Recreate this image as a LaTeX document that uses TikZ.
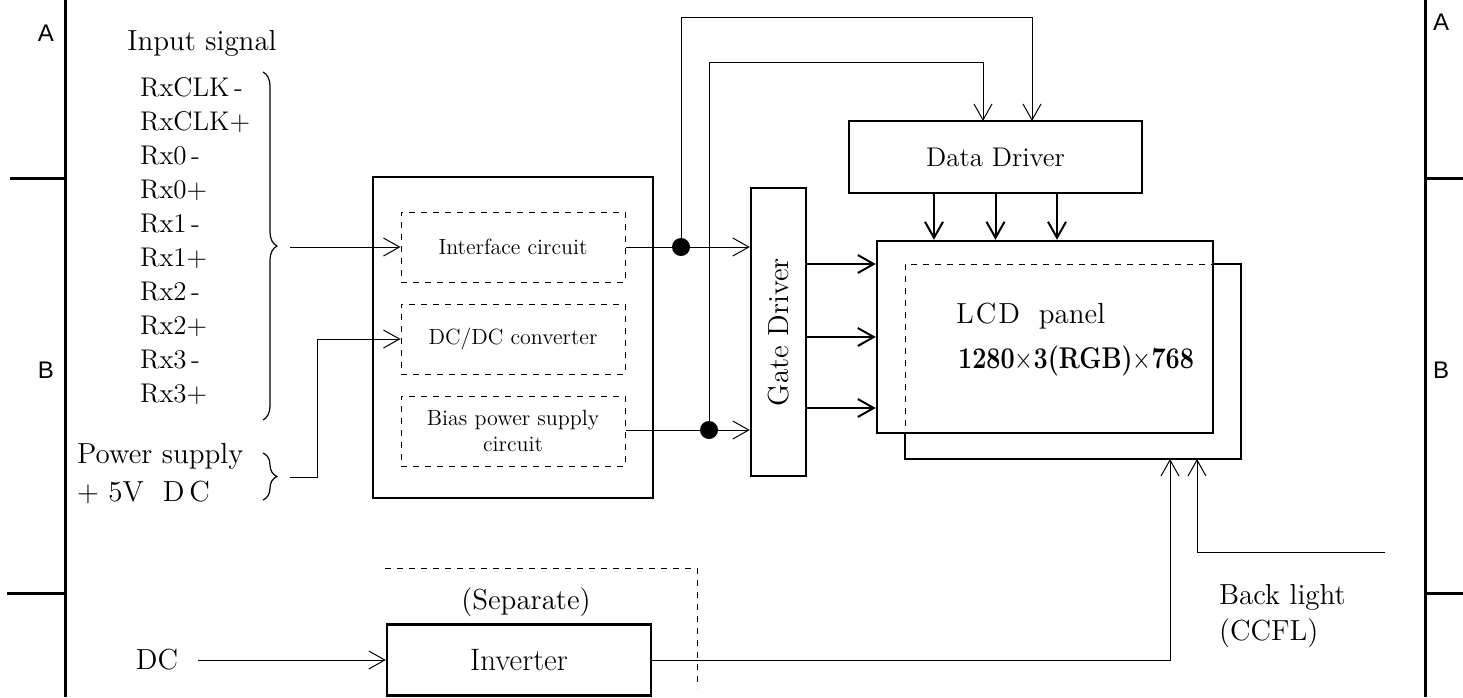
\documentclass[tikz,border=0pt]{standalone}
\usepackage{fontspec}
\newfontfamily\marcofont{Liberation Sans}
\usetikzlibrary{positioning, arrows.meta, decorations.pathreplacing}

\begin{document}
\begin{tikzpicture}[x=0.5pt, y=-0.5pt, >={Straight Barb[length=8pt,width=9pt]},
  bloque/.style={draw, line width=1.2pt, inner sep=0pt},
  sub/.style={draw, dashed, line width=0.5pt, inner sep=0pt, minimum width=112pt,
    minimum height=35pt, align=center, font=\fontsize{11}{13}\selectfont},
  fino/.style={line width=0.5pt},
  grueso/.style={line width=1pt},
  marco/.style={line width=1.5pt},
  llave/.style={decorate, decoration={brace, amplitude=7pt}, line width=0.6pt},
  txt/.style={font=\fontsize{14.5}{18}\selectfont},
  letra/.style={font=\marcofont\fontsize{12}{14}\selectfont}]
\useasboundingbox (0,0) rectangle (1463,697);

% Marco
\draw[marco] (65,0) -- (65,697);
\draw[marco] (1425,0) -- (1425,697);
\draw[marco] (10,178) -- (65,178);
\draw[marco] (7,593) -- (65,593);
\draw[marco] (1425,178) -- (1463,178);
\draw[marco] (1425,593) -- (1463,593);
\node[letra] (al) at (46,33) {A};
\node[letra] (ar) at (1441,22) {A};
\node[letra] (bl) at (46,370) {B};
\node[letra] (br) at (1441,370) {B};

% Entradas
\node[txt] (insig) at (202,43) {Input signal};
\node[anchor=west, align=left, font=\fontsize{13.5}{17}\selectfont] (rx) at (133,241)
  {RxCLK\,-\\RxCLK+\\Rx0\,-\\Rx0+\\Rx1\,-\\Rx1+\\Rx2\,-\\Rx2+\\Rx3\,-\\Rx3+};
\draw[llave] (263,72) -- (263,420);
\coordinate (rxtip) at (290,247);
\node[txt, anchor=west] (pwr) at (70,456) {Power supply};
\node[txt, anchor=west] (pwrv) at (70,492) {$+$\ 5V\ \ D\,C};
\draw[llave] (263,453) -- (263,500);
\coordinate (pwtip) at (290,477);
\coordinate (pwcodo) at (317,477);

% Bloques
\node[bloque, minimum width=140pt, minimum height=160.5pt] (ctrl) at (513,337.5) {};
\node[sub] (intf) at (513,247) {Interface circuit};
\node[sub, below=10.5pt of intf] (dcdc) {DC/DC converter};
\node[sub, below=10.5pt of dcdc] (bias) {Bias power supply\\circuit};
\node[bloque, minimum width=27.5pt, minimum height=144pt, font=\fontsize{14.5}{16}\selectfont]
  (gate) at (778.5,332) {\rotatebox{90}{Gate Driver}};
\node[bloque, minimum width=146.5pt, minimum height=36pt, font=\fontsize{13.5}{16}\selectfont]
  (data) at (995.5,157) {Data Driver};
\node[draw, dashed, fino, minimum width=167.5pt, minimum height=97pt] (back) at (1072.5,361) {};
\node[bloque, minimum width=168pt, minimum height=96pt] (lcd) at (1045,337) {};
\draw[grueso] (lcd.east |- back.north) -- (back.north east) -- (back.south east)
  -- (back.south west) -- (back.west |- lcd.south);
\node[txt, anchor=west] (lcdt) at (949,316) {L\kern1ptC\kern1ptD\ \ panel};
\node[anchor=west, font=\bfseries\fontsize{15}{16}\selectfont] (res) at (951,361)
  {\scalebox{0.84}[1]{1280$\times$3(RGB)$\times$768}};
\node[bloque, minimum width=132pt, minimum height=35.5pt, font=\fontsize{15.5}{18}\selectfont]
  (inv) at (519,660) {Inverter};
\node[txt] (sep) at (526,602) {(Separate)};
\node[txt] (dc) at (157,660) {DC};
\node[txt, anchor=west, align=left] (bltxt) at (1212,616) {Back light\\(CCFL)};
\draw[fino, dashed] (385,568) -- (697,568) -- (697,688);

% Conexiones
\draw[fino, ->] (rxtip) -- (intf.west);
\draw[fino, ->] (pwtip) -- (pwcodo) |- (dcdc.west);
\coordinate (j1) at (681,247);
\coordinate (j2) at (709,430);
\coordinate (t1) at (681,17);
\coordinate (t2) at (709,62);
\coordinate (d1) at (983,121);
\coordinate (d2) at (1032,121);
\draw[fino, ->] (intf.east) -- (gate.west |- intf.east);
\draw[fino, ->] (bias.east |- j2) -- (gate.west |- j2);
\draw[fino, ->] (j1) -- (t1) -| (d2);
\draw[fino, ->] (j2) -- (t2) -| (d1);
\fill (j1) circle (4.5pt);
\fill (j2) circle (4.5pt);
\foreach \d in {-30.75,0,30.75}
  \draw[grueso, ->] ([xshift=\d pt]data.south) -- ([xshift=\d pt]data.south |- lcd.north);
\foreach \d [count=\i] in {36.5,0,-35.5} {
  \coordinate (g\i) at ([yshift=\d pt]lcd.west);
  \draw[grueso, ->] (gate.east |- g\i) -- (g\i);
}
\draw[fino, ->, shorten <=6.5pt] (dc) -- (inv);
\coordinate (b1) at (1170,459);
\coordinate (b2) at (1197,459);
\coordinate (blin) at (1385,552);
\draw[fino, ->] (inv.east) -| (b1);
\draw[fino, ->] (blin) -| (b2);
\end{tikzpicture}
\end{document}
